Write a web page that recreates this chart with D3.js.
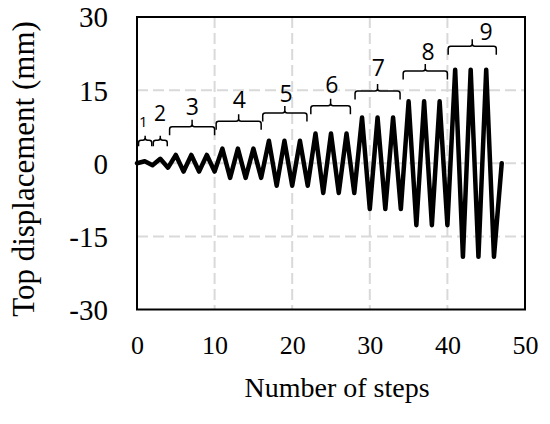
<!DOCTYPE html>
<html>
<head>
<meta charset="utf-8">
<script src="https://cdn.jsdelivr.net/npm/d3@7/dist/d3.min.js"></script>
<style>
  html, body { margin: 0; padding: 0; background: #fff; }
  svg { display: block; }
</style>
</head>
<body>
<svg id="chart" width="550" height="424"></svg>
<script>
// ---- data ----
const steps = d3.range(0, 48);
const displacement = [
  0, 0.4, -0.4, 0.9, -0.9,
  1.7, -1.7, 1.7, -1.7, 1.7, -1.7,
  3, -3, 3, -3, 3, -3,
  4.6, -4.6, 4.6, -4.6, 4.6, -4.6,
  6.1, -6.1, 6.1, -6.1, 6.1, -6.1,
  9.4, -9.4, 9.4, -9.4, 9.4, -9.4,
  12.7, -12.7, 12.7, -12.7, 12.7, -12.7,
  19.2, -19.2, 19.2, -19.2, 19.2, -19.2,
  0
];
const xTicks = [0, 10, 20, 30, 40, 50];
const yTicks = [-30, -15, 0, 15, 30];
const levels = ["1", "2", "3", "4", "5", "6", "7", "8", "9"];
const braceStart = [0.2, 2.1, 4.2, 10.2, 16.2, 22.4, 28.1, 34.3, 40.1];
const braceEnd   = [1.9, 3.9, 10.0, 16.0, 21.9, 27.5, 33.9, 40.0, 46.3];
const braceLevel = [4.7, 4.7, 7.5, 8.6, 10.3, 11.8, 14.8, 18.9, 24.0];
const labelStep  = [0.81, 2.96, 7.13, 13.2, 19.2, 25.1, 31.1, 37.5, 45.0];
const labelLevel = [7.5, 8.7, 9.9, 11.3, 12.6, 14.5, 17.8, 21.2, 25.3];

// ---- layout ----
const svg = d3.select("#chart");
const x = d3.scaleLinear().domain([0, 50]).range([137, 525]);
const y = d3.scaleLinear().domain([-30, 30]).range([309.5, 17]);
const serif = "'Liberation Serif', 'Times New Roman', serif";
const sans = "'Open Sans', 'Noto Sans', sans-serif";

// gridlines
svg.append("g").selectAll("line.vg")
  .data(xTicks.filter(t => t > 0 && t < 50)).join("line")
  .attr("x1", d => x(d)).attr("x2", d => x(d))
  .attr("y1", y(30)).attr("y2", y(-30))
  .attr("stroke", "#d9d9d9").attr("stroke-width", 2)
  .attr("stroke-dasharray", "11,5");
svg.append("g").selectAll("line.hg")
  .data(yTicks.filter(t => t > -30 && t < 30)).join("line")
  .attr("x1", x(0)).attr("x2", x(50))
  .attr("y1", d => y(d)).attr("y2", d => y(d))
  .attr("stroke", "#d9d9d9").attr("stroke-width", 2)
  .attr("stroke-dasharray", "11,5");

// axes (labels only, frame drawn separately)
const xAxis = d3.axisBottom(x).tickValues(xTicks).tickSize(0).tickPadding(0)
  .tickFormat(d => String(d));
const gx = svg.append("g").attr("transform", `translate(0,${y(-30)})`).call(xAxis);
gx.select(".domain").remove();
gx.selectAll("text")
  .attr("font-family", serif).attr("font-size", 26).attr("fill", "#000")
  .attr("dy", null).attr("y", 44);

const yAxis = d3.axisLeft(y).tickValues(yTicks).tickSize(0).tickPadding(0)
  .tickFormat(d => String(d));
const gy = svg.append("g").attr("transform", `translate(108,0)`).call(yAxis);
gy.select(".domain").remove();
gy.selectAll("text")
  .attr("font-family", serif).attr("font-size", 29).attr("fill", "#000")
  .attr("x", 0).attr("dy", "0.34em");

// plot frame
svg.append("rect")
  .attr("x", x(0)).attr("y", y(30))
  .attr("width", x(50) - x(0)).attr("height", y(-30) - y(30))
  .attr("fill", "none").attr("stroke", "#000").attr("stroke-width", 2);

// series line
const line = d3.line().x((d, i) => x(steps[i])).y(d => y(d));
svg.append("path")
  .datum(displacement)
  .attr("d", line)
  .attr("fill", "none").attr("stroke", "#000")
  .attr("stroke-width", 4.5).attr("stroke-linejoin", "round").attr("stroke-linecap", "round");

// braces
const braces = svg.append("g");
levels.forEach((lab, i) => {
  const x0 = x(braceStart[i]), x1 = x(braceEnd[i]);
  const yb = y(braceLevel[i]);
  const small = i < 2;
  const h = small ? 6 : 8.5;   // drop of the ends
  const t = small ? 4.5 : 7;   // height of the centre tick
  const r = 2.5;
  const xm = (x0 + x1) / 2;
  const p = d3.path();
  p.moveTo(x0, yb + h);
  p.lineTo(x0, yb + r);
  p.quadraticCurveTo(x0, yb, x0 + r, yb);
  p.lineTo(xm - r, yb);
  p.quadraticCurveTo(xm, yb, xm, yb - r);
  p.lineTo(xm, yb - t);
  p.moveTo(xm, yb - r);
  p.quadraticCurveTo(xm, yb, xm + r, yb);
  p.lineTo(x1 - r, yb);
  p.quadraticCurveTo(x1, yb, x1, yb + r);
  p.lineTo(x1, yb + h);
  braces.append("path").attr("d", p.toString())
    .attr("fill", "none").attr("stroke", "#000").attr("stroke-width", 1.5);
  braces.append("text")
    .attr("x", x(labelStep[i])).attr("y", y(labelLevel[i]))
    .attr("text-anchor", "middle")
    .attr("font-family", sans)
    .attr("font-size", i === 0 ? 15 : (i === 1 ? 21 : 23))
    .attr("fill", "#000")
    .text(lab);
});

// axis titles
svg.append("text")
  .attr("x", (x(0) + x(50)) / 2 + 6).attr("y", 397)
  .attr("text-anchor", "middle")
  .attr("font-family", serif).attr("font-size", 28).attr("fill", "#000")
  .text("Number of steps");
svg.append("text")
  .attr("transform", `translate(34,169) rotate(-90)`)
  .attr("text-anchor", "middle")
  .attr("font-family", serif).attr("font-size", 31).attr("fill", "#000")
  .text("Top displacement (mm)");
</script>
</body>
</html>
